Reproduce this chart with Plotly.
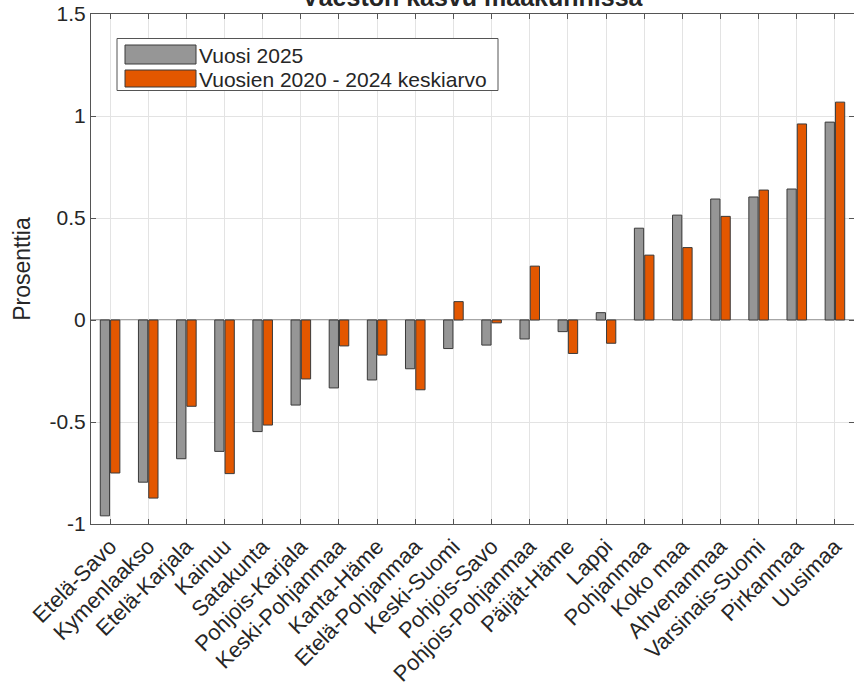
import plotly.graph_objects as go

categories = ["Etelä-Savo", "Kymenlaakso", "Etelä-Karjala", "Kainuu", "Satakunta",
              "Pohjois-Karjala", "Keski-Pohjanmaa", "Kanta-Häme", "Etelä-Pohjanmaa",
              "Keski-Suomi", "Pohjois-Savo", "Pohjois-Pohjanmaa", "Päijät-Häme", "Lappi",
              "Pohjanmaa", "Koko maa", "Ahvenanmaa", "Varsinais-Suomi", "Pirkanmaa", "Uusimaa"]
vuosi_2025 = [-0.96, -0.795, -0.68, -0.644, -0.547, -0.417, -0.333, -0.294, -0.239,
              -0.14, -0.123, -0.093, -0.057, 0.036, 0.45, 0.514, 0.593, 0.603, 0.642, 0.97]
keskiarvo_2020_2024 = [-0.75, -0.873, -0.423, -0.753, -0.515, -0.289, -0.127, -0.172, -0.342,
                       0.09, -0.014, 0.264, -0.164, -0.114, 0.318, 0.355, 0.508, 0.637, 0.961, 1.068]
series_names = ["Vuosi 2025", "Vuosien 2020 - 2024 keskiarvo"]
title_text = "Väestön kasvu maakunnissa"
y_label = "Prosenttia"
y_ticks = [-1, -0.5, 0, 0.5, 1, 1.5]
y_ticklabels = ["-1", "-0.5", "0", "0.5", "1", "1.5"]

GREY = "#969696"
ORANGE = "#e35700"
EDGE = "#3a3a3a"
TXT = "#262626"
FONT = "Liberation Sans, Arial, sans-serif"

W, H = 854, 689
L, R, T, B = 91, 0, 14, 165
PW, PH = W - L - R, H - T - B

def px(x):
    return (x - L) / PW

def py(y):
    return 1 - (y - T) / PH

fig = go.Figure()
fig.add_trace(go.Bar(x=categories, y=vuosi_2025, name=series_names[0],
                     marker=dict(color=GREY, line=dict(color=EDGE, width=1)),
                     showlegend=False))
fig.add_trace(go.Bar(x=categories, y=keskiarvo_2020_2024, name=series_names[1],
                     marker=dict(color=ORANGE, line=dict(color=EDGE, width=1)),
                     showlegend=False))

axis_common = dict(showline=True, linecolor="#555555", linewidth=1, mirror="ticks",
                   ticks="inside", ticklen=5, tickcolor="#555555",
                   showgrid=True, gridcolor="#e3e3e3", gridwidth=1, zeroline=False)

fig.update_xaxes(**axis_common, type="category", range=[-0.5, 19.5], tickangle=-45,
                 tickfont=dict(family=FONT, size=22, color=TXT))
fig.update_yaxes(**axis_common, range=[-1, 1.5], tickvals=y_ticks, ticktext=y_ticklabels,
                 tickfont=dict(family=FONT, size=21, color=TXT),
                 title=dict(text=y_label, font=dict(family=FONT, size=23, color=TXT),
                            standoff=12))

shapes = [
    dict(type="line", xref="paper", yref="y", x0=0, x1=1, y0=0, y1=0,
         line=dict(color="#888888", width=1.5), layer="below"),
    dict(type="rect", xref="paper", yref="paper", x0=px(117), x1=px(498), y0=py(38.5), y1=py(90.5),
         line=dict(color="#555555", width=1), fillcolor="white"),
    dict(type="rect", xref="paper", yref="paper", x0=px(125), x1=px(196), y0=py(45), y1=py(64),
         line=dict(color=EDGE, width=1), fillcolor=GREY),
    dict(type="rect", xref="paper", yref="paper", x0=px(125), x1=px(196), y0=py(70), y1=py(87),
         line=dict(color=EDGE, width=1), fillcolor=ORANGE),
]
annotations = [
    dict(text=series_names[0], xref="paper", yref="paper", x=px(197), y=py(55),
         xanchor="left", yanchor="middle", showarrow=False,
         font=dict(family=FONT, size=21, color=TXT)),
    dict(text=series_names[1], xref="paper", yref="paper", x=px(197), y=py(79),
         xanchor="left", yanchor="middle", showarrow=False,
         font=dict(family=FONT, size=21, color=TXT)),
    dict(text="<b>" + title_text + "</b>", xref="paper", yref="paper", x=0.5, y=1,
         xanchor="center", yanchor="bottom", yshift=1, showarrow=False,
         font=dict(family=FONT, size=25, color=TXT)),
]

fig.update_layout(
    width=W, height=H,
    margin=dict(l=L, r=R, t=T, b=B, autoexpand=False),
    paper_bgcolor="white", plot_bgcolor="white",
    barmode="group", bargap=0.46, bargroupgap=0.1,
    shapes=shapes, annotations=annotations,
    font=dict(family=FONT),
)

fig.write_html("out.html", config={"displayModeBar": False},
               post_script="document.body.style.margin='0';")
